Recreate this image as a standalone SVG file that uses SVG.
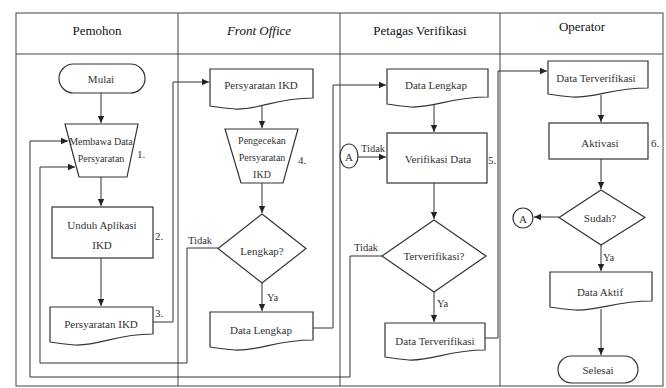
<svg xmlns="http://www.w3.org/2000/svg" width="666" height="388" viewBox="0 0 666 388" font-family="'Liberation Serif', serif">
<defs>
<marker id="ah" markerWidth="8" markerHeight="8" refX="7" refY="4" orient="auto" markerUnits="userSpaceOnUse">
<path d="M0,0.8 L7,4 L0,7.2 Z" fill="#222"/>
</marker>
<style>
.frame{fill:none;stroke:#444;stroke-width:1}
.shape{fill:#fff;stroke:#333;stroke-width:1.2}
.conn{fill:none;stroke:#333;stroke-width:1}
.arr{marker-end:url(#ah)}
text{font-family:'Liberation Serif', serif;fill:#333;text-anchor:middle;dominant-baseline:central}
.hd{font-size:13px;fill:#111}
.t{font-size:11px}
.s{font-size:10px}
.lb{font-size:10.5px;text-anchor:start}
</style>
</defs>
<rect width="666" height="388" fill="#fff"/>
<g id="lanes">
<rect class="frame" x="16" y="13" width="647" height="373"/>
<line class="frame" x1="16" y1="54" x2="663" y2="54"/>
<line class="frame" x1="178" y1="13" x2="178" y2="386"/>
<line class="frame" x1="340" y1="13" x2="340" y2="386"/>
<line class="frame" x1="500" y1="13" x2="500" y2="386"/>
<text class="hd" x="97" y="30">Pemohon</text>
<text class="hd" x="259" y="30" font-style="italic">Front Office</text>
<text class="hd" x="420" y="30">Petagas Verifikasi</text>
<text class="hd" x="582" y="26">Operator</text>
</g>
<g id="connectors">
<path class="conn arr" d="M101,93 V123"/>
<path class="conn arr" d="M101,177 V206"/>
<path class="conn arr" d="M101,258 V306"/>
<path class="conn arr" d="M153,322 H173 V82 H209"/>
<path class="conn arr" d="M262,106 V128"/>
<path class="conn arr" d="M262,183 V213"/>
<path class="conn arr" d="M262,283 V311"/>
<path class="conn arr" d="M218,248 H187 V363 H40 V167 H75"/>
<path class="conn arr" d="M313,328 H333 V85 H386"/>
<path class="conn arr" d="M434,103 V132"/>
<path class="conn arr" d="M358,157 H386"/>
<path class="conn arr" d="M434,183 V219"/>
<path class="conn arr" d="M434,292 V322"/>
<path class="conn arr" d="M383,256 H350 V377 H30 V141 H68"/>
<path class="conn arr" d="M485,338 H498 V71 H547"/>
<path class="conn arr" d="M601,95 V122"/>
<path class="conn arr" d="M601,159 V189"/>
<path class="conn arr" d="M559,217 H534"/>
<path class="conn arr" d="M601,245 V271"/>
<path class="conn arr" d="M601,309 V355"/>
<text class="lb" x="188" y="240">Tidak</text>
<text class="lb" x="267" y="297">Ya</text>
<text class="lb" x="361" y="148">Tidak</text>
<text class="lb" x="354" y="247">Tidak</text>
<text class="lb" x="437" y="303">Ya</text>
<text class="lb" x="603" y="257">Ya</text>
</g>
<g id="mulai">
<rect class="shape" x="59" y="64" width="86" height="29" rx="14.5"/>
<text class="t" x="101" y="79">Mulai</text>
</g>
<g id="membawa">
<path class="shape" d="M65,124 H138 L127,177 H79 Z"/>
<text class="s" x="101" y="141">Membawa Data</text>
<text class="s" x="101" y="158">Persyaratan</text>
<text class="t" x="141" y="154">1.</text>
</g>
<g id="unduh">
<rect class="shape" x="52" y="207" width="101" height="51"/>
<text class="t" x="102" y="225">Unduh Aplikasi</text>
<text class="t" x="102" y="245">IKD</text>
<text class="t" x="159" y="236">2.</text>
</g>
<g id="persyaratan1">
<path class="shape" d="M50,307 H153 V334 C115,334 100,346 75,345 C62,344 56,343 50,342 Z"/>
<text class="t" x="101" y="324">Persyaratan IKD</text>
<text class="t" x="159" y="313">3.</text>
</g>
<g id="persyaratan2">
<path class="shape" d="M210,69 H313 V98 C275,98 260,110 235,109 C222,108 216,107 210,106 Z"/>
<text class="t" x="261" y="85">Persyaratan IKD</text>
</g>
<g id="pengecekan">
<path class="shape" d="M225,129 H298 L283,183 H241 Z"/>
<text class="s" x="262" y="140">Pengecekan</text>
<text class="s" x="262" y="157">Persyaratan</text>
<text class="s" x="262" y="174">IKD</text>
<text class="t" x="302" y="160">4.</text>
</g>
<g id="lengkap">
<path class="shape" d="M262,214 L306,248.5 L262,283 L218,248.5 Z"/>
<text class="t" x="262" y="251">Lengkap?</text>
</g>
<g id="datalengkap1">
<path class="shape" d="M210,312 H313 V340 C275,340 260,351 235,350 C222,349 216,348 210,347 Z"/>
<text class="t" x="261" y="330">Data Lengkap</text>
</g>
<g id="datalengkap2">
<path class="shape" d="M387,69 H488 V97 C450,97 435,108 411,107 C399,106 393,105 387,104 Z"/>
<text class="t" x="436" y="85">Data Lengkap</text>
</g>
<g id="verifikasi">
<rect class="shape" x="387" y="133" width="100" height="50"/>
<text class="t" x="438" y="159">Verifikasi Data</text>
<text class="t" x="492" y="160">5.</text>
</g>
<g id="a1">
<ellipse class="shape" cx="349" cy="156" rx="9" ry="12"/>
<text class="t" x="349" y="157">A</text>
</g>
<g id="terverifikasi">
<path class="shape" d="M434,220 L486,256 L434,292 L382,256 Z"/>
<text class="t" x="434" y="256">Terverifikasi?</text>
</g>
<g id="dataterverifikasi1">
<path class="shape" d="M385,323 H485 V350 C448,350 433,361 409,360 C397,359 391,358 385,357 Z"/>
<text class="t" x="435" y="341">Data Terverifikasi</text>
</g>
<g id="dataterverifikasi2">
<path class="shape" d="M548,61 H648 V88 C611,88 596,98 572,97 C560,96 554,95 548,94 Z"/>
<text class="t" x="596" y="78">Data Terverifikasi</text>
</g>
<g id="aktivasi">
<rect class="shape" x="549" y="123" width="99" height="36"/>
<text class="t" x="600" y="143">Aktivasi</text>
<text class="t" x="655" y="143">6.</text>
</g>
<g id="sudah">
<path class="shape" d="M601,190 L645,217.5 L601,245 L559,217.5 Z"/>
<text class="t" x="600" y="218">Sudah?</text>
</g>
<g id="a2">
<circle class="shape" cx="523" cy="218" r="10"/>
<text class="t" x="523" y="219">A</text>
</g>
<g id="dataaktif">
<path class="shape" d="M550,272 H652 V301 C614,301 599,311 575,310 C563,309 556,308 550,307 Z"/>
<text class="t" x="600" y="292">Data Aktif</text>
</g>
<g id="selesai">
<rect class="shape" x="558" y="356" width="80" height="27" rx="13.5"/>
<text class="t" x="598" y="370">Selesai</text>
</g>
</svg>
